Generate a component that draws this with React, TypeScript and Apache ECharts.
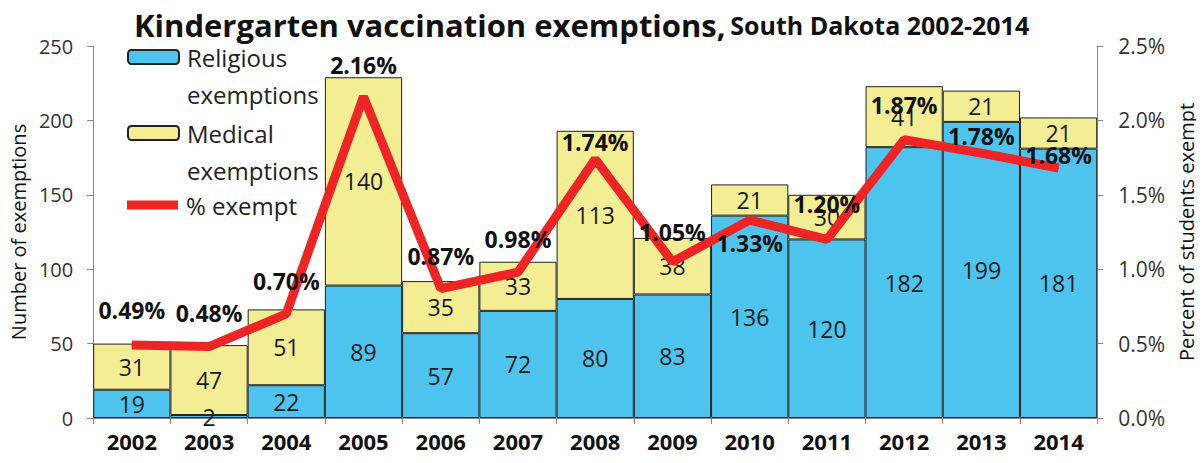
import React, { useEffect, useRef } from "react";
import * as echarts from "echarts";

const years = ["2002", "2003", "2004", "2005", "2006", "2007", "2008", "2009", "2010", "2011", "2012", "2013", "2014"];
const religious = [19, 2, 22, 89, 57, 72, 80, 83, 136, 120, 182, 199, 181];
const medical = [31, 47, 51, 140, 35, 33, 113, 38, 21, 30, 41, 21, 21];
const percentExempt = [0.49, 0.48, 0.7, 2.16, 0.87, 0.98, 1.74, 1.05, 1.33, 1.2, 1.87, 1.78, 1.68];
const leftTicks = { min: 0, max: 250, interval: 50 };
const rightTicks = { min: 0, max: 2.5, interval: 0.5 };
const seriesNames = ["Religious exemptions", "Medical exemptions", "% exempt"];

// label vertical offsets (styling only)
const pctLabelDy = [-35, -34, -33, -32, -33, -33, -17, -30, 23, -35, -35, -17, -13];

const FONT = "'Open Sans', Lato, sans-serif";

export default function App() {
  const ref = useRef<HTMLDivElement>(null);
  useEffect(() => {
    if (!ref.current) return;
    const chart = echarts.init(ref.current, null, { renderer: "svg" });
    const barLabel = {
      show: true,
      position: "inside",
      color: "#1a1a1a",
      fontSize: 23,
      fontFamily: FONT,
    };
    const legendRich = {
      t: { fontSize: 24, color: "#222", fontFamily: FONT, lineHeight: 37, padding: [0, 0, 0, 3] },
      e: { fontSize: 24, lineHeight: 37 },
    };
    const twoLine = (name: string) => {
      const parts = name.split(" ");
      return "{e| }\n{t|" + parts[0] + "}\n{t|" + parts[1] + "}";
    };
    const legendBase = {
      orient: "vertical",
      left: 127,
      padding: 0,
      itemWidth: 51,
      itemHeight: 14,
      textStyle: { fontFamily: FONT, rich: legendRich },
    };
    chart.setOption({
      animation: false,
      textStyle: { fontFamily: FONT },
      title: {
        left: 134,
        top: 2,
        padding: 0,
        text: "{a|Kindergarten vaccination exemptions,} {b|South Dakota 2002-2014}",
        textStyle: {
          rich: {
            a: { fontSize: 31, fontWeight: "bold", color: "#111", fontFamily: FONT, verticalAlign: "bottom", lineHeight: 38 },
            b: { fontSize: 25, fontWeight: "bold", color: "#111", fontFamily: FONT, verticalAlign: "bottom", padding: [0, 0, 3, 0] },
          },
        },
      },
      legend: [
        { ...legendBase, top: 8, formatter: twoLine, data: [{ name: seriesNames[0] }] },
        { ...legendBase, top: 84, formatter: twoLine, data: [{ name: seriesNames[1] }] },
        {
          ...legendBase,
          top: 193,
          formatter: (name: string) => "{t|" + name + "}",
          data: [{ name: seriesNames[2], icon: "path://M0,2.5 H51 V11.5 H0 Z M0,0 H0.01 V14 H0 Z" }],
        },
      ],
      grid: { left: 83, right: 91, top: 46, bottom: 45, containLabel: false },
      xAxis: {
        type: "category",
        data: years,
        axisLine: { lineStyle: { color: "#888" } },
        axisTick: { show: true, alignWithLabel: false, length: 6, lineStyle: { color: "#888" } },
        axisLabel: { fontSize: 22, fontWeight: "bold", color: "#111", margin: 12, fontFamily: FONT },
      },
      yAxis: [
        {
          type: "value",
          ...leftTicks,
          name: "Number of exemptions",
          nameLocation: "middle",
          nameRotate: 90,
          nameGap: 56,
          nameTextStyle: { fontSize: 20, color: "#111", fontFamily: FONT },
          axisLine: { show: true, lineStyle: { color: "#888" } },
          axisTick: { show: true, length: 6, lineStyle: { color: "#888" } },
          axisLabel: { fontSize: 20, color: "#333", margin: 20, fontFamily: FONT },
          splitLine: { show: false },
        },
        {
          type: "value",
          ...rightTicks,
          position: "right",
          name: "Percent of students exempt",
          nameLocation: "middle",
          nameRotate: 90,
          nameGap: 68,
          nameTextStyle: { fontSize: 20, color: "#111", fontFamily: FONT },
          axisLine: { show: true, lineStyle: { color: "#888" } },
          axisTick: { show: true, length: 6, lineStyle: { color: "#888" } },
          axisLabel: {
            fontSize: 21,
            color: "#333",
            margin: 21,
            fontFamily: FONT,
            formatter: (v: number) => v.toFixed(1) + "%",
          },
          splitLine: { show: false },
        },
      ],
      series: [
        {
          name: seriesNames[0],
          type: "bar",
          stack: "ex",
          barCategoryGap: 0,
          data: religious,
          itemStyle: { color: "#4dc4ee", borderColor: "#222", borderWidth: 1 },
          label: barLabel,
        },
        {
          name: seriesNames[1],
          type: "bar",
          stack: "ex",
          barCategoryGap: 0,
          data: medical,
          itemStyle: { color: "#f3ed93", borderColor: "#222", borderWidth: 1 },
          label: barLabel,
        },
        {
          name: seriesNames[2],
          type: "line",
          yAxisIndex: 1,
          symbol: "circle",
          symbolSize: 1,
          itemStyle: { color: "#ee2524" },
          lineStyle: { color: "#ee2524", width: 9 },
          data: percentExempt.map((v, i) => ({
            value: v,
            label: { offset: [0, pctLabelDy[i]] },
          })),
          label: {
            show: true,
            position: "inside",
            fontSize: 23,
            fontWeight: "bold",
            color: "#111",
            fontFamily: FONT,
            formatter: (p: any) => p.value.toFixed(2) + "%",
          },
          z: 5,
        },
      ],
    });
    return () => chart.dispose();
  }, []);
  return <div ref={ref} style={{ width: 1204, height: 463, margin: -8 }} />;
}
